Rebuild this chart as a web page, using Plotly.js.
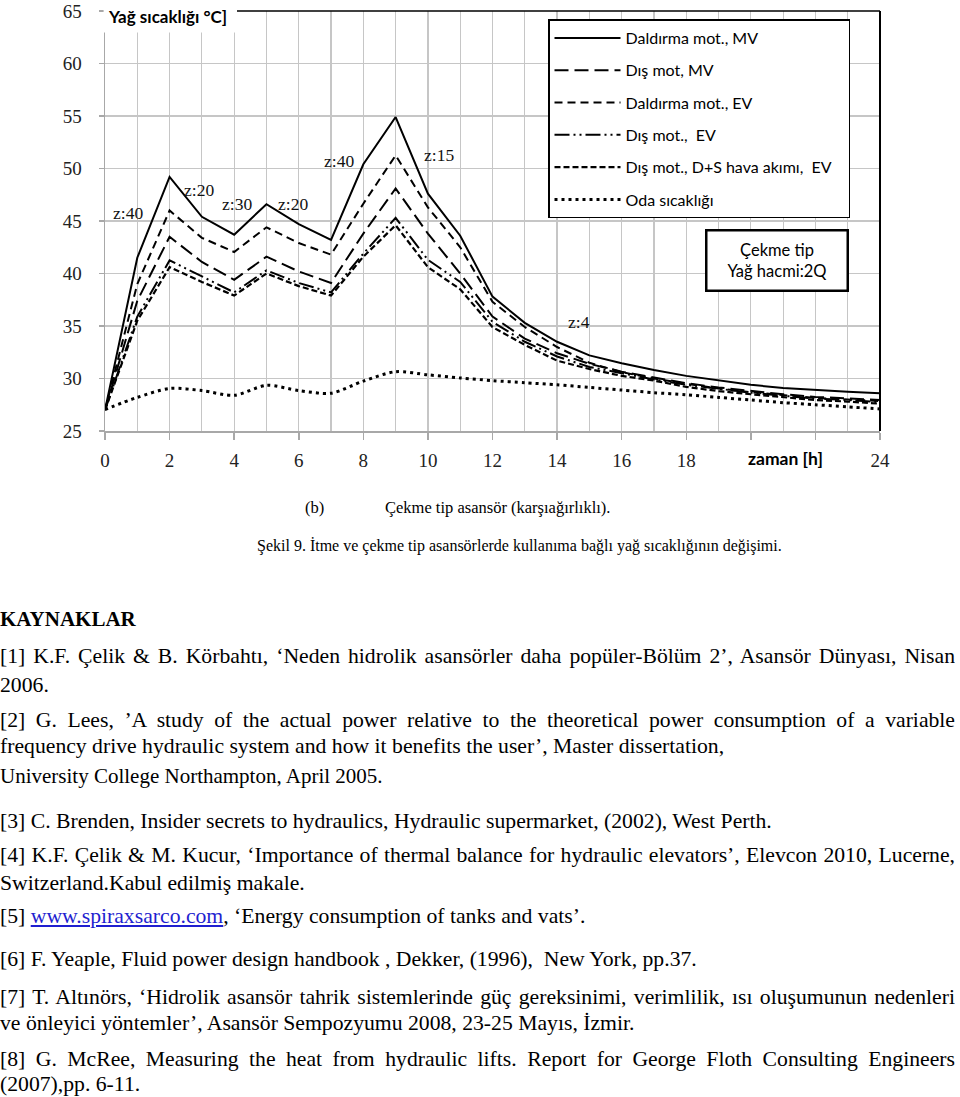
<!DOCTYPE html>
<html><head><meta charset="utf-8">
<script src="https://cdn.plot.ly/plotly-3.0.1.min.js"></script>
<style>
body{margin:0;background:#fff;width:960px;height:1097px;position:relative;overflow:hidden;font-family:"Liberation Serif","Times New Roman",serif;color:#000;}
#chart{position:absolute;left:0;top:0;width:960px;height:478px;}
.t{position:absolute;left:0;white-space:nowrap;line-height:26px;height:26px;font-size:21.7px;}
.j{width:955px;text-align:justify;text-align-last:justify;white-space:normal;overflow:hidden;}
.cap{font-size:16px;}
a{color:#1f1fd0;text-decoration:underline;}
</style></head><body>
<div id="chart"></div>

<div class="t cap" style="top:495px;left:305px;font-size:16.5px">(b)</div>
<div class="t cap" style="top:495px;left:385px;font-size:16.5px">Çekme tip asansör (karşıağırlıklı).</div>
<div class="t cap" style="top:533px;left:257px;">Şekil 9. İtme ve çekme tip asansörlerde kullanıma bağlı yağ sıcaklığının değişimi.</div>
<div class="t" style="top:606px;font-weight:bold;font-size:21px">KAYNAKLAR</div>
<div class="t j" style="top:643px">[1] K.F. Çelik &amp; B. Körbahtı, ‘Neden hidrolik asansörler daha popüler-Bölüm 2’, Asansör Dünyası, Nisan</div>
<div class="t" style="top:672px">2006.</div>
<div class="t j" style="top:707px">[2] G. Lees, ’A study of the actual power relative to the theoretical power consumption of a variable</div>
<div class="t" style="top:733px">frequency drive hydraulic system and how it benefits the user’, Master dissertation,</div>
<div class="t" style="top:763px;font-size:21px">University College Northampton, April 2005.</div>
<div class="t" style="top:808px">[3] C. Brenden, Insider secrets to hydraulics, Hydraulic supermarket, (2002), West Perth.</div>
<div class="t j" style="top:842px">[4] K.F. Çelik &amp; M. Kucur, ‘Importance of thermal balance for hydraulic elevators’, Elevcon 2010, Lucerne,</div>
<div class="t" style="top:870px">Switzerland.Kabul edilmiş makale.</div>
<div class="t" style="top:903px">[5] <a>www.spiraxsarco.com</a>, ‘Energy consumption of tanks and vats’.</div>
<div class="t" style="top:946px">[6] F. Yeaple, Fluid power design handbook , Dekker, (1996),&nbsp; New York, pp.37.</div>
<div class="t j" style="top:984px">[7] T. Altınörs, ‘Hidrolik asansör tahrik sistemlerinde güç gereksinimi, verimlilik, ısı oluşumunun nedenleri</div>
<div class="t" style="top:1010px">ve önleyici yöntemler’, Asansör Sempozyumu 2008, 23-25 Mayıs, İzmir.</div>
<div class="t j" style="top:1046px">[8] G. McRee, Measuring the heat from hydraulic lifts. Report for George Floth Consulting Engineers</div>
<div class="t" style="top:1071px">(2007),pp. 6-11.</div>

<script>
// time [h]
const hours = [0,1,2,3,4,5,6,7,8,9,10,11,12,13,14,15,16,17,18,19,20,21,22,23,24];

const seriesNames = [
  "Daldırma mot., MV",
  "Dış mot, MV",
  "Daldırma mot., EV",
  "Dış mot.,\u00a0\u00a0EV",
  "Dış mot., D+S hava akımı,\u00a0\u00a0EV\u00a0\u00a0\u00a0",
  "Oda sıcaklığı"
];

const daldirmaMV = [27.0,41.5,49.2,45.4,43.7,46.6,44.7,43.2,50.4,54.9,47.6,43.6,37.8,35.3,33.5,32.2,31.45,30.8,30.25,29.8,29.4,29.1,28.9,28.75,28.6];
const disMV      = [27.0,37.4,43.5,41.1,39.4,41.6,40.2,39.1,43.8,48.1,43.8,40.0,35.9,33.8,32.4,31.4,30.65,30.1,29.55,29.15,28.8,28.5,28.25,28.1,27.95];
const daldirmaEV = [27.0,39.0,46.0,43.4,42.05,44.4,42.9,41.8,46.65,51.25,46.3,42.5,37.3,34.9,33.0,31.5,30.6,30.0,29.5,29.05,28.7,28.4,28.15,28.0,27.85];
const disEV      = [27.0,35.9,41.25,39.7,38.2,40.3,39.1,38.2,41.9,45.3,41.3,39.2,35.4,33.5,32.1,31.1,30.5,29.9,29.4,29.0,28.65,28.35,28.1,27.95,27.75];
const disDSEV    = [27.0,35.5,40.6,39.2,37.9,40.0,38.8,37.9,41.6,44.6,40.6,38.5,34.9,33.2,31.7,30.9,30.25,29.8,29.2,28.8,28.5,28.2,27.95,27.8,27.6];
const odaSicakligi = [27.05,28.2,29.05,28.85,28.4,29.35,28.85,28.6,29.75,30.65,30.35,30.05,29.8,29.6,29.4,29.15,28.9,28.65,28.45,28.2,27.95,27.7,27.5,27.3,27.1];

const xTickVals = [0,2,4,6,8,10,12,14,16,18,20,22,24];
const xTickText = ["0","2","4","6","8","10","12","14","16","18","","","24"];

const zLabels = ["z:40","z:20","z:30","z:20","z:40","z:15","z:4"];
const zLabelX = [0.72,2.91,4.08,5.81,7.26,10.35,14.68];
const zLabelY = [45.76,47.99,46.66,46.66,50.71,51.25,35.4];

const styles = [
  {dash:"solid", width:2},
  {dash:"14px,6px", width:2},
  {dash:"8px,5px", width:2},
  {dash:"15px,4px,2px,4px,2px,4px", width:2},
  {dash:"6px,3px", width:2.2},
  {dash:"3px,4px", width:3}
];
const allSeries = [daldirmaMV, disMV, daldirmaEV, disEV, disDSEV, odaSicakligi];

const traces = allSeries.map((ys, i) => ({
  x: hours, y: ys, type: "scatter", mode: "lines", name: seriesNames[i],
  legendgroup: "g" + i,
  line: {color: "#000", width: styles[i].width, dash: styles[i].dash,
         shape: i === 5 ? "spline" : "linear", smoothing: 0.8},
  hoverinfo: "skip"
}));

const L = 105, R = 880, T = 10.5, B = 431;
const px2x = p => (p - L) / (R - L);
const px2y = p => (B - p) / (B - T);

const annotations = [
  {xref:"paper", yref:"paper", x:px2x(106), y:px2y(16), xanchor:"left", yanchor:"middle",
   text:"<b>Yağ sıcaklığı °C]</b>", showarrow:false, font:{family:"Lato", size:17, color:"#000"}},
  {xref:"x", yref:"paper", x:21.06, y:px2y(459), xanchor:"center", yanchor:"middle",
   text:"<b>zaman [h]</b>", showarrow:false, font:{family:"Lato", size:17.5, color:"#000"}},
  {xref:"paper", yref:"paper", x:px2x(776.5), y:px2y(260), xanchor:"center", yanchor:"middle",
   text:"Çekme tip<br>Yağ hacmi:2Q", showarrow:false, width:139, height:58, borderpad:0,
   bordercolor:"#000", borderwidth:2.5, bgcolor:"#fff", font:{family:"Lato", size:16.5, color:"#000"}}
];
zLabels.forEach((t, i) => annotations.push({
  xref:"x", yref:"y", x:zLabelX[i], y:zLabelY[i], text:t, showarrow:false,
  font:{family:"Liberation Serif", size:17.5, color:"#111"}
}));

const shapes = [
  {type:"rect", xref:"paper", yref:"paper", x0:px2x(103.6), x1:px2x(237), y0:px2y(32), y1:1.05,
   fillcolor:"#fff", line:{width:0}, layer:"above"},
  {type:"line", xref:"paper", yref:"paper", x0:px2x(237), x1:1, y0:1, y1:1,
   line:{color:"#000", width:1.5}, layer:"above"},
  {type:"line", xref:"paper", yref:"paper", x0:1, x1:1, y0:0, y1:1,
   line:{color:"#000", width:2}, layer:"above"}
];

const gridC = "#c6c6c6";
const layout = {
  width:960, height:478,
  margin:{l:L, r:960-R, t:T, b:478-B, pad:0},
  paper_bgcolor:"#fff", plot_bgcolor:"#fff",
  showlegend:true,
  legend:{x:px2x(548), y:px2y(19), xanchor:"left", yanchor:"top",
          bordercolor:"#000", borderwidth:1.5, bgcolor:"#fff",
          font:{family:"Lato", size:16, color:"#000"},
          traceorder:"grouped", tracegroupgap:8.5, itemwidth:66},
  xaxis:{range:[0,24], tickmode:"array", tickvals:xTickVals, ticktext:xTickText,
         ticks:"outside", ticklen:7, tickwidth:1.5, tickcolor:"#a8a8a8",
         showline:true, linecolor:"#a8a8a8", linewidth:1.5,
         showgrid:true, gridcolor:gridC, gridwidth:1.2,
         minor:{tickmode:"array", tickvals:hours, showgrid:true, gridcolor:gridC, gridwidth:1.2, ticks:""},
         zeroline:false, ticklabelstandoff:5,
         tickfont:{family:"Liberation Serif", size:19, color:"#222"}},
  yaxis:{range:[25,65], tick0:25, dtick:5,
         ticks:"outside", ticklen:5, tickwidth:1.5, tickcolor:"#a8a8a8",
         showline:true, linecolor:"#a8a8a8", linewidth:1.5,
         showgrid:true, gridcolor:gridC, gridwidth:1.2,
         zeroline:false, ticklabelstandoff:13,
         tickfont:{family:"Liberation Serif", size:19, color:"#222"}},
  annotations: annotations,
  shapes: shapes
};

Plotly.newPlot("chart", traces, layout, {staticPlot:true, displayModeBar:false});
</script>
</body></html>
